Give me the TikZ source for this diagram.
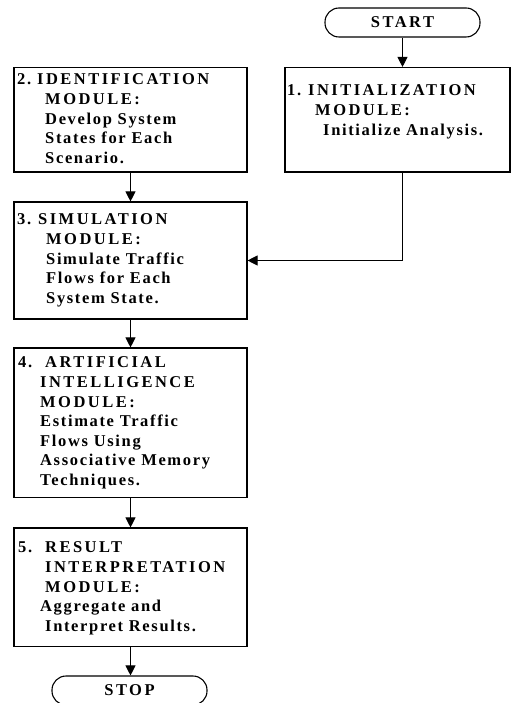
\documentclass[tikz,border=0pt]{standalone}
\usepackage{fontspec}
\setmainfont{Liberation Serif}
% tracked faces: capitals are spaced wider than the running text
\newfontfamily\hdfont[LetterSpace=15]{Liberation Serif}
\newfontfamily\bdfont[LetterSpace=10]{Liberation Serif}
\usetikzlibrary{arrows.meta}

\newcommand{\capln}[1]{{\hdfont #1}}
\newcommand{\txtln}[1]{{\bdfont #1}}
% step number in a fixed-width slot
\newcommand{\stepno}[2]{\makebox[#1][l]{\bdfont #2}}

\begin{document}
\begin{tikzpicture}[x=1pt,y=-1pt,
  modbox/.style={draw, line width=1.1pt, inner sep=0pt, rectangle},
  termbox/.style={draw, line width=1.1pt, rounded corners=14pt, inner sep=0pt,
    minimum width=155pt, minimum height=29pt,
    font=\fontsize{16.5pt}{19.6pt}\selectfont\bfseries\hdfont},
  modtext/.style={anchor=north west, inner sep=0pt, align=left,
    font=\fontsize{16.5pt}{19.6pt}\selectfont\bfseries},
  flow/.style={line width=0.9pt, -{Triangle[length=10pt,width=10pt]}}]

\useasboundingbox (0,0) rectangle (511,703);

% terminals
\node[termbox] (start) at (402.5,22.5) {START};
\node[termbox] (stop) at (129.5,690.5) {STOP};

% module boxes
\node[modbox, minimum width=225pt, minimum height=104.5pt] (m1) at (397.5,119.75) {};
\node[modbox, minimum width=233pt, minimum height=104.5pt] (m2) at (130.5,119.75) {};
\node[modbox, minimum width=233pt, minimum height=117pt]   (m3) at (130.5,260.5) {};
\node[modbox, minimum width=233pt, minimum height=149.5pt] (m4) at (130.5,422.75) {};
\node[modbox, minimum width=233pt, minimum height=118.5pt] (m5) at (130.5,587.25) {};

% module texts (first baselines at 96, 85, 225, 368, 553)
\node[modtext] (t1) at (287,84.8) {%
  \capln{\stepno{21pt}{1.}INITIALIZATION}\\
  \capln{\hspace*{28pt}MODULE:}\\
  \txtln{\hspace*{36pt}Initialize Analysis.}};
\node[modtext] (t2) at (17,73.8) {%
  \capln{\stepno{20pt}{2.}IDENTIFICATION}\\
  \capln{\hspace*{28pt}MODULE:}\\
  \txtln{\hspace*{28pt}Develop System}\\
  \txtln{\hspace*{28pt}States for Each}\\
  \txtln{\hspace*{28pt}Scenario.}};
\node[modtext] (t3) at (17,213.8) {%
  \capln{\stepno{21pt}{3.}SIMULATION}\\
  \capln{\hspace*{29pt}MODULE:}\\
  \txtln{\hspace*{29pt}Simulate Traffic}\\
  \txtln{\hspace*{29pt}Flows for Each}\\
  \txtln{\hspace*{29pt}System State.}};
\node[modtext] (t4) at (18,356.8) {%
  \capln{\stepno{27pt}{4.}ARTIFICIAL}\\
  \capln{\hspace*{22pt}INTELLIGENCE}\\
  \capln{\hspace*{22pt}MODULE:}\\
  \txtln{\hspace*{22pt}Estimate Traffic}\\
  \txtln{\hspace*{22pt}Flows Using}\\
  \txtln{\hspace*{22pt}Associative Memory}\\
  \txtln{\hspace*{22pt}Techniques.}};
\node[modtext] (t5) at (18,541.8) {%
  \capln{\stepno{27pt}{5.}RESULT}\\
  \capln{\hspace*{27pt}INTERPRETATION}\\
  \capln{\hspace*{27pt}MODULE:}\\
  \txtln{\hspace*{22pt}Aggregate and}\\
  \txtln{\hspace*{27pt}Interpret Results.}};

% connectors
\draw[flow] (start.south) -- (start.south |- m1.north);
\draw[flow] (start.south |- m1.south) |- (m3.east);
\draw[flow] (m2.south) -- (m3.north);
\draw[flow] (m3.south) -- (m4.north);
\draw[flow] (m4.south) -- (m5.north);
\draw[flow] (m5.south) -- (m5.south |- stop.north);
\end{tikzpicture}
\end{document}
